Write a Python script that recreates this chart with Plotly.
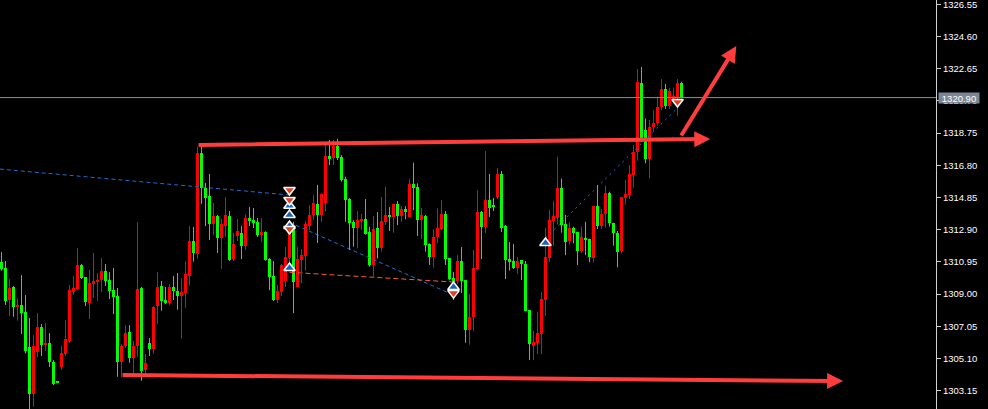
import plotly.graph_objects as go

# ---------------- data (XAUUSD-like M1 candles, index 0..170) ----------------
opens = [1310.94,1310.58,1308.64,1309.44,1308.23,1308.34,1307.91,1305.79,1302.95,1305.47,
         1307.00,1305.97,1306.03,1304.88,1303.67,1304.58,1305.37,1306.16,1309.12,1309.31,
         1310.76,1310.03,1308.46,1309.61,1309.79,1309.85,1310.40,1309.85,1309.24,1308.88,
         1304.90,1305.87,1306.70,1305.14,1305.87,1309.37,1304.42,1306.03,1305.67,1308.29,
         1309.49,1308.64,1308.46,1309.43,1309.18,1308.88,1309.06,1310.09,1312.21,1311.44,
         1317.54,1315.42,1314.94,1313.24,1313.73,1312.39,1313.12,1313.73,1311.12,1312.52,
         1312.70,1311.91,1313.61,1313.48,1313.36,1312.58,1312.76,1311.12,1310.09,1308.64,
         1309.12,1309.79,1311.18,1313.18,1309.44,1311.06,1311.32,1313.12,1313.79,1314.45,
         1313.79,1314.51,1317.36,1317.22,1317.97,1317.32,1315.97,1314.76,1313.38,1312.98,
         1313.42,1313.55,1312.78,1310.76,1313.00,1311.81,1313.34,1313.79,1313.65,1314.45,
         1313.73,1314.15,1313.67,1315.67,1315.48,1313.48,1313.73,1312.03,1311.26,1312.44,
         1312.94,1313.85,1311.18,1309.97,1309.79,1311.00,1309.85,1306.82,1307.61,1310.52,
         1313.97,1313.06,1314.70,1314.28,1314.88,1316.27,1313.12,1311.12,1311.00,1310.58,
         1311.06,1310.82,1308.03,1305.85,1306.03,1306.58,1308.64,1311.18,1313.42,1313.62,
         1315.44,1313.24,1312.21,1313.02,1312.74,1311.61,1312.32,1312.32,1311.16,1314.35,
         1313.14,1313.83,1315.10,1313.28,1312.68,1311.63,1314.84,1315.00,1316.21,1317.62,
         1321.78,1318.94,1317.18,1319.10,1319.34,1320.35,1321.42,1320.41,1320.81,1320.95,
         1321.80]
highs = [1311.55,1311.00,1309.91,1309.49,1308.74,1310.15,1308.94,1307.55,1306.52,1307.85,
         1307.19,1307.25,1306.64,1305.00,1303.70,1305.85,1307.43,1309.55,1310.09,1311.79,
         1310.82,1310.03,1310.46,1311.49,1310.27,1311.18,1310.82,1310.33,1310.58,1309.37,
         1305.97,1307.12,1307.12,1306.16,1313.36,1309.43,1305.37,1306.34,1308.28,1310.33,
         1309.79,1309.43,1309.61,1310.09,1310.27,1309.97,1311.00,1313.12,1313.06,1317.92,
         1318.03,1315.73,1316.27,1314.51,1313.79,1313.55,1314.88,1314.03,1312.70,1313.55,
         1313.12,1313.85,1314.27,1314.21,1313.61,1313.61,1312.80,1311.18,1311.00,1309.55,
         1310.82,1311.85,1313.18,1313.38,1311.85,1311.73,1313.44,1314.39,1315.00,1315.61,
         1315.12,1318.03,1318.33,1318.33,1318.39,1317.42,1316.11,1314.82,1313.48,1314.03,
         1313.85,1314.76,1313.08,1313.73,1313.97,1314.88,1315.50,1314.27,1314.45,1314.64,
         1314.33,1314.33,1315.95,1316.96,1315.71,1314.21,1313.79,1312.07,1312.94,1314.19,
         1314.70,1314.03,1311.18,1310.33,1311.36,1311.85,1309.85,1309.00,1311.67,1315.30,
         1314.03,1317.66,1316.27,1314.82,1316.63,1316.45,1313.18,1312.15,1312.03,1311.24,
         1311.06,1311.00,1308.03,1306.76,1307.91,1309.12,1313.00,1314.09,1314.64,1317.32,
         1315.99,1313.79,1313.36,1313.08,1312.78,1313.08,1313.38,1312.35,1314.35,1315.61,
         1314.15,1315.56,1315.20,1313.32,1312.82,1314.90,1315.91,1316.82,1318.03,1322.63,
         1322.75,1319.64,1319.54,1320.15,1320.95,1322.02,1321.72,1321.50,1321.50,1322.02,
         1321.86]
lows = [1310.42,1308.34,1307.67,1307.63,1307.39,1306.58,1305.41,1302.04,1302.18,1305.19,
        1305.25,1305.55,1304.58,1303.49,1303.64,1304.40,1305.25,1306.03,1308.94,1309.24,
        1309.91,1308.28,1307.49,1308.76,1308.58,1309.12,1309.49,1308.70,1307.79,1303.99,
        1303.97,1305.73,1304.84,1304.22,1305.21,1303.75,1304.05,1305.25,1305.39,1307.20,
        1307.99,1308.40,1308.34,1308.64,1308.05,1306.30,1308.17,1309.51,1310.96,1311.14,
        1314.47,1313.12,1312.27,1312.58,1311.49,1310.52,1312.46,1311.00,1310.99,1312.21,
        1311.12,1311.67,1313.12,1313.00,1312.46,1312.15,1311.02,1309.24,1308.58,1308.46,
        1308.88,1309.43,1310.58,1307.85,1309.43,1309.67,1310.42,1312.88,1313.48,1312.09,
        1313.36,1313.99,1316.82,1316.82,1317.12,1315.81,1313.38,1311.67,1311.87,1311.77,
        1312.88,1312.60,1310.66,1309.99,1311.16,1311.57,1313.18,1312.82,1312.72,1313.18,
        1313.38,1313.53,1313.65,1314.09,1312.52,1312.33,1311.57,1310.76,1310.60,1312.07,
        1312.88,1310.76,1309.85,1308.64,1309.60,1309.06,1306.05,1305.93,1306.76,1310.46,
        1311.12,1312.70,1313.67,1314.03,1314.76,1312.76,1309.91,1310.42,1310.52,1310.21,
        1309.85,1307.97,1305.00,1305.00,1305.37,1305.37,1307.67,1310.94,1311.91,1313.22,
        1312.72,1311.36,1312.01,1312.07,1310.76,1311.47,1311.36,1310.92,1310.92,1312.94,
        1312.94,1313.02,1313.08,1311.93,1310.62,1311.47,1314.43,1314.76,1315.44,1317.08,
        1318.23,1316.92,1316.01,1318.88,1319.20,1320.15,1320.21,1320.21,1320.69,1319.80,
        1320.86]
closes = [1310.54,1308.60,1309.38,1308.23,1308.32,1307.87,1305.55,1302.95,1305.85,1307.00,
          1305.91,1306.03,1304.88,1303.55,1303.67,1305.43,1306.28,1309.24,1309.37,1310.76,
          1309.97,1308.52,1309.67,1309.79,1309.85,1310.40,1309.79,1309.18,1308.82,1304.90,
          1305.85,1306.64,1305.14,1305.85,1309.31,1304.36,1304.82,1305.67,1308.22,1309.43,
          1308.58,1308.46,1309.43,1309.18,1308.88,1309.12,1310.21,1312.21,1311.49,1317.54,
          1315.42,1314.82,1313.24,1313.73,1312.39,1313.24,1313.79,1311.06,1312.03,1312.82,
          1311.91,1313.61,1313.42,1313.30,1312.58,1312.76,1311.06,1310.03,1308.64,1309.18,
          1310.76,1311.24,1312.70,1309.75,1311.12,1311.36,1313.24,1313.79,1314.51,1313.79,
          1315.06,1317.36,1317.18,1317.97,1317.22,1315.91,1314.70,1313.32,1312.98,1313.48,
          1313.55,1312.64,1310.76,1312.94,1311.77,1313.42,1313.79,1313.65,1314.45,1313.73,
          1314.15,1313.97,1315.67,1315.44,1313.48,1313.79,1311.97,1311.26,1312.47,1312.98,
          1313.85,1311.12,1309.91,1309.73,1311.00,1309.79,1306.82,1307.61,1310.58,1313.97,
          1313.06,1314.70,1314.21,1314.28,1316.27,1313.00,1311.06,1310.94,1310.58,1311.00,
          1310.82,1307.99,1305.97,1306.09,1306.64,1308.70,1311.24,1313.48,1313.73,1315.44,
          1313.18,1312.17,1313.02,1312.68,1311.61,1312.44,1312.30,1311.26,1314.35,1313.14,
          1313.85,1315.10,1313.28,1312.68,1311.57,1314.90,1315.06,1316.27,1317.62,1321.83,
          1318.33,1317.18,1319.10,1319.34,1320.35,1321.42,1320.41,1321.30,1320.99,1321.80,
          1320.90]

current_price = 1320.90

y_ticks = [1326.55, 1324.60, 1322.65, 1320.70, 1318.75, 1316.80, 1314.85,
           1312.90, 1310.95, 1309.00, 1307.05, 1305.10, 1303.15]

# trade lines (bar index, price)
trade_lines = [
    dict(x=[-0.4, 72], y=[1316.57, 1315.00], color="#1f6fd6", dash="4px,3px"),
    dict(x=[72, 113], y=[1313.34, 1308.94], color="#1f6fd6", dash="4px,3px"),
    dict(x=[72, 113], y=[1310.32, 1309.73], color="#ff5a36", dash="5px,3px"),
    dict(x=[136, 169], y=[1312.39, 1320.27], color="#1f6fd6", dash="2px,4px"),
]
buy_x = [72, 72, 72, 72, 113, 136]
buy_y = [1314.35, 1313.79, 1313.12, 1310.58, 1309.43, 1312.09]
sell_x = [72, 72, 72, 113, 169]
sell_y = [1315.30, 1314.70, 1312.94, 1309.06, 1320.63]

# hand-drawn red arrows (tail -> tip) in bar index / price
arrow_tail_x = [48.9, 169.7, 29.9]
arrow_tail_y = [1318.03, 1318.51, 1304.10]
arrow_tip_x = [177.2, 183.7, 210.4]
arrow_tip_y = [1318.39, 1324.02, 1303.73]

UP = "#ff0000"
DOWN = "#00ff00"

# ---------------- figure ----------------
idx = list(range(len(opens)))
fig = go.Figure()

for ln in trade_lines:
    fig.add_trace(go.Scatter(x=ln["x"], y=ln["y"], mode="lines",
                             line=dict(color=ln["color"], width=1, dash=ln["dash"]),
                             hoverinfo="skip"))

for is_up, col in [(True, UP), (False, DOWN)]:
    sel = [i for i in idx if (closes[i] > opens[i]) == is_up]
    wx, wy = [], []
    for i in sel:
        wx += [i, i, None]
        wy += [lows[i], highs[i], None]
    fig.add_trace(go.Scatter(x=wx, y=wy, mode="lines",
                             line=dict(color=col, width=1), hoverinfo="skip"))
    fig.add_trace(go.Bar(x=sel,
                         y=[max(abs(closes[i] - opens[i]), 0.06) for i in sel],
                         base=[min(opens[i], closes[i]) for i in sel],
                         width=0.75, marker=dict(color=col, line=dict(width=0)),
                         hoverinfo="skip"))

fig.add_trace(go.Scatter(x=buy_x, y=buy_y, mode="markers",
                         marker=dict(symbol="triangle-up", size=10, color="#1565c0",
                                     line=dict(color="white", width=1.5)),
                         hoverinfo="skip"))
fig.add_trace(go.Scatter(x=sell_x, y=sell_y, mode="markers",
                         marker=dict(symbol="triangle-down", size=10, color="#e53d1f",
                                     line=dict(color="white", width=1.5)),
                         hoverinfo="skip"))

fig.add_shape(type="line", xref="paper", x0=0, x1=1, yref="y",
              y0=current_price, y1=current_price,
              line=dict(color="#8f8f8f", width=1))

annotations = []
for tx, ty, hx, hy in zip(arrow_tail_x, arrow_tail_y, arrow_tip_x, arrow_tip_y):
    annotations.append(dict(x=hx, y=hy, ax=tx, ay=ty, xref="x", yref="y",
                            axref="x", ayref="y", text="", showarrow=True,
                            arrowhead=2, arrowsize=0.8, arrowwidth=4,
                            arrowcolor="#ff3d3d", standoff=0))
annotations.append(dict(x=1, xref="paper", xanchor="left", xshift=2,
                        y=current_price, yref="y", yanchor="middle",
                        text=f"{current_price:.2f}", showarrow=False,
                        bgcolor="#7a8896", borderpad=0, width=40, height=10,
                        align="center",
                        font=dict(color="white", size=9.5, family="Liberation Sans")))

fig.update_layout(
    width=988, height=409,
    margin=dict(l=0, r=52, t=0, b=0),
    paper_bgcolor="black", plot_bgcolor="black",
    showlegend=False, barmode="overlay", bargap=0,
    hovermode=False,
    annotations=annotations,
    xaxis=dict(range=[-0.375, 233.625], visible=False, showgrid=False),
    yaxis=dict(range=[1302.04, 1326.81], side="right", showgrid=False,
               zeroline=False, showline=True, linecolor="#d0d0d0", linewidth=1,
               ticks="outside", ticklen=4, tickcolor="#d0d0d0",
               ticklabeloverflow="allow",
               tickvals=y_ticks, ticktext=[f"{v:.2f}" for v in y_ticks],
               tickfont=dict(color="white", size=9.5, family="Liberation Sans")),
)

fig.write_html("out.html", config={"displayModeBar": False},
               post_script="document.body.style.margin='0';document.body.style.background='black';")
